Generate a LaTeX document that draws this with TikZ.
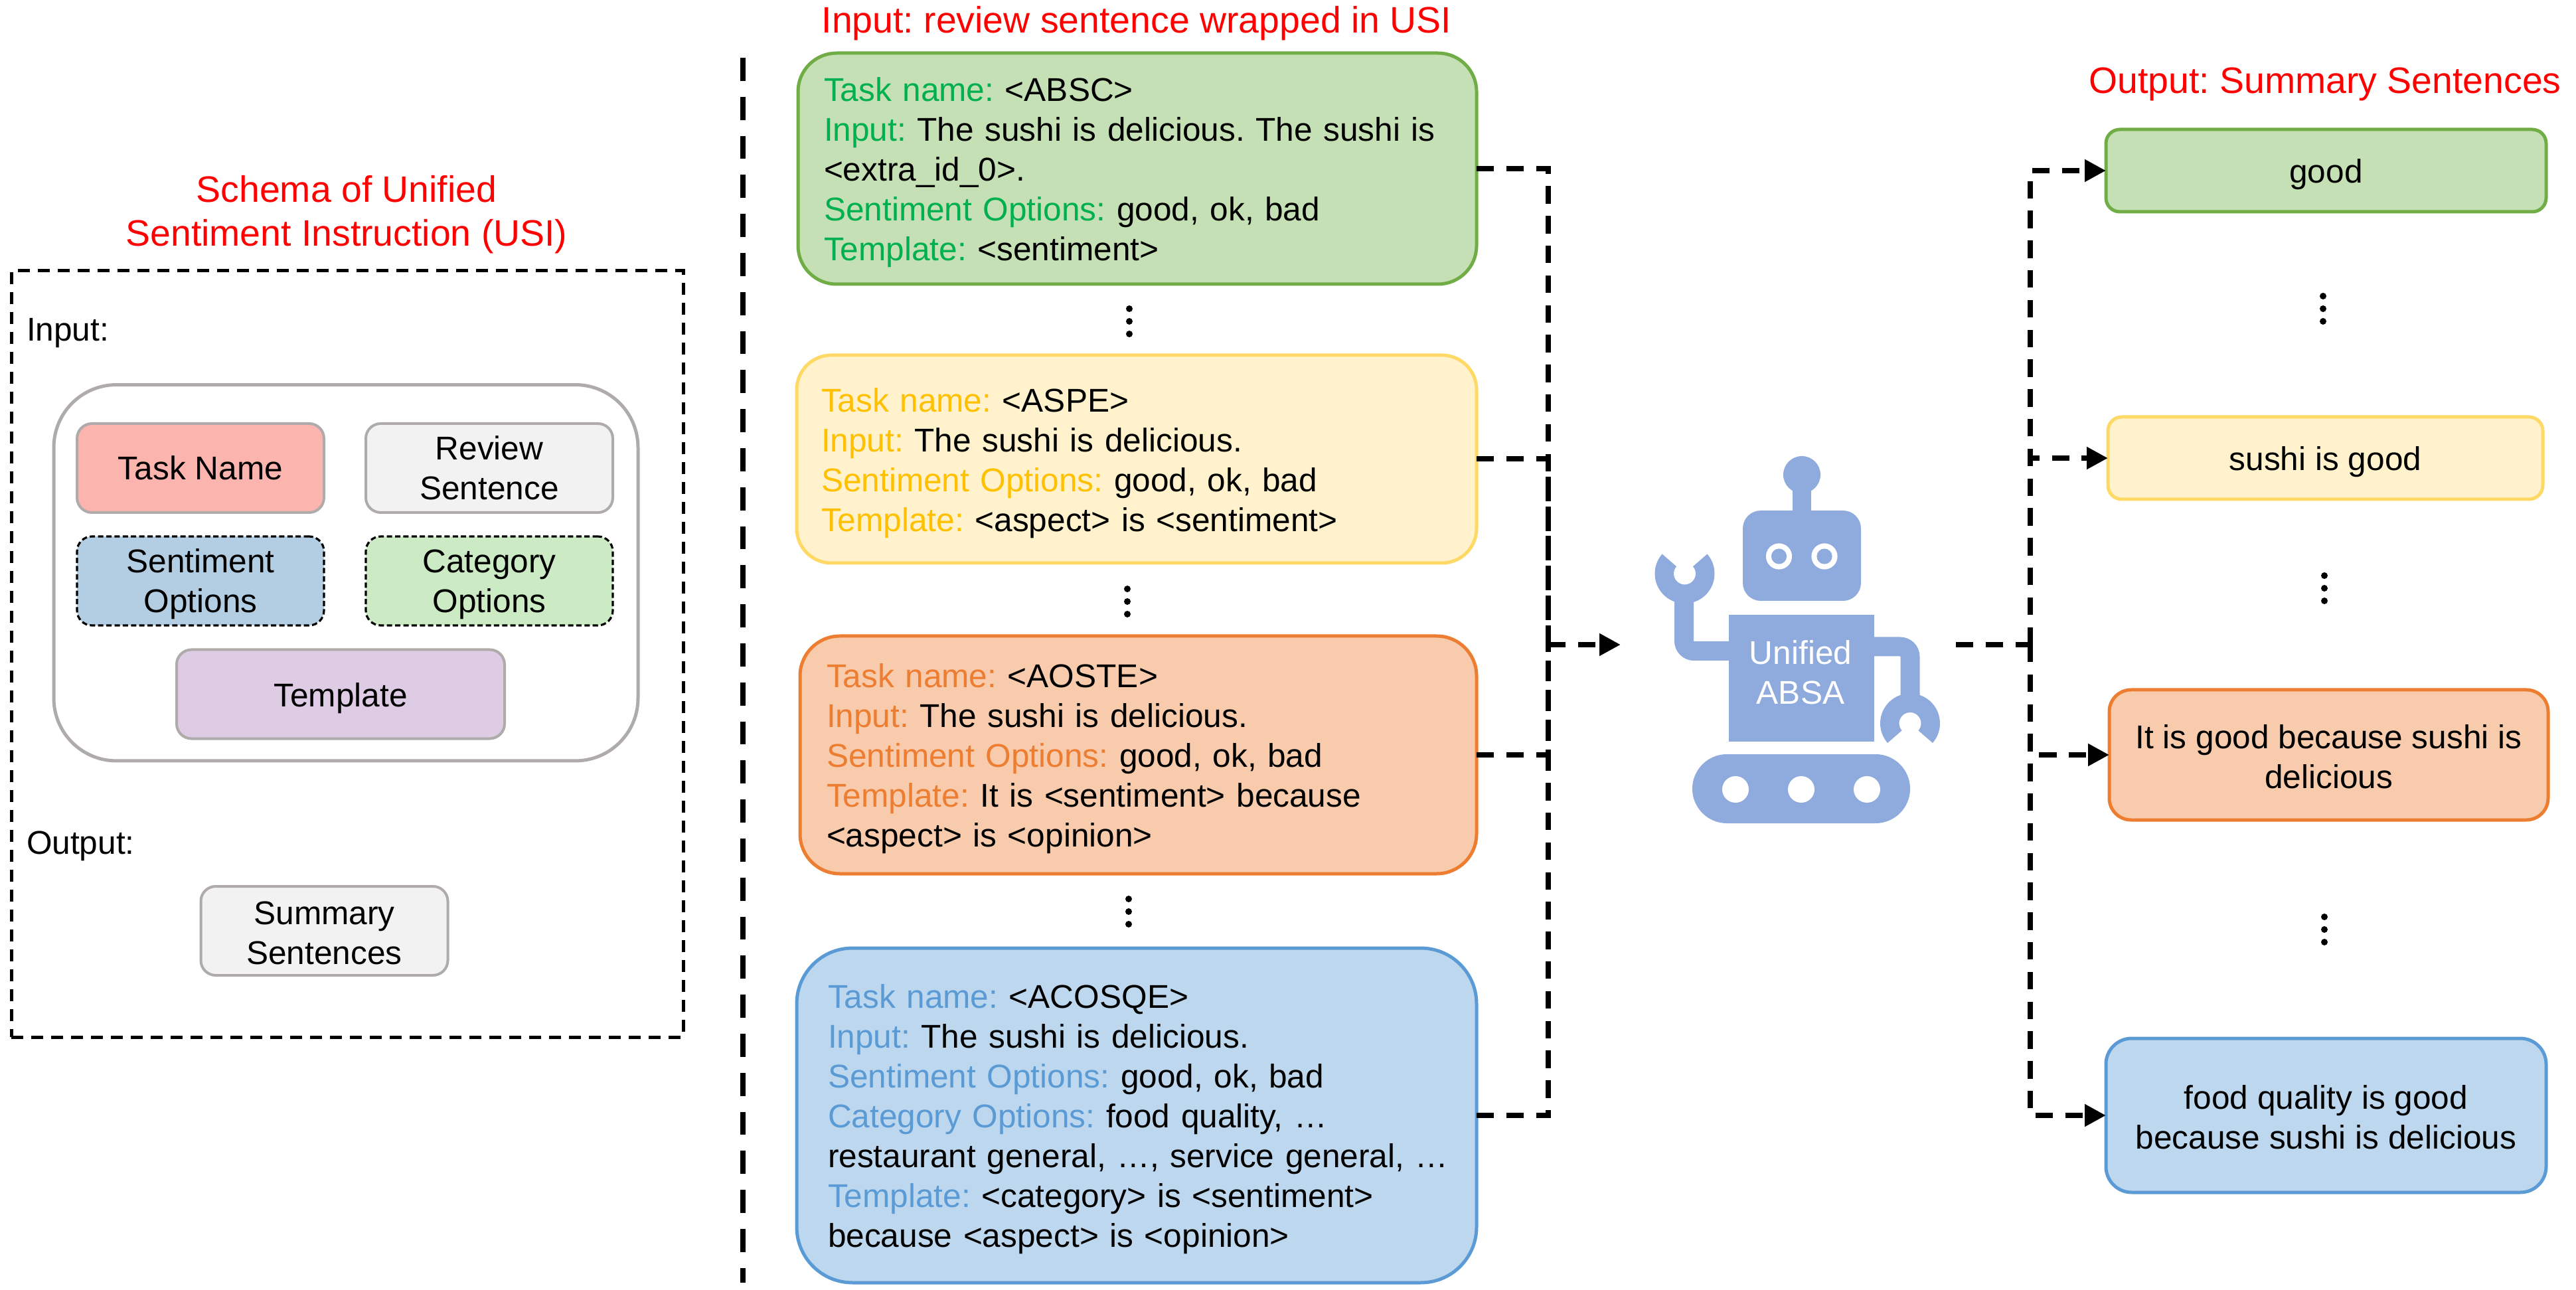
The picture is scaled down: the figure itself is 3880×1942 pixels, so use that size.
\documentclass[tikz,border=0pt]{standalone}
\usepackage{fontspec}
\setmainfont{Liberation Sans}
\usepackage{tikz}
\usetikzlibrary{positioning, calc, arrows.meta}
\definecolor{titleRed}{HTML}{FF0000}
\definecolor{greyLine}{HTML}{AFABAB}
\definecolor{taskFill}{HTML}{FBB4AE}
\definecolor{plainFill}{HTML}{F2F2F2}
\definecolor{sentFill}{HTML}{B3CDE3}
\definecolor{catFill}{HTML}{CCEBC5}
\definecolor{tmplFill}{HTML}{DECBE4}
\definecolor{abscFill}{HTML}{C5E0B4}
\definecolor{abscLine}{HTML}{70AD47}
\definecolor{abscText}{HTML}{00B050}
\definecolor{aspeFill}{HTML}{FFF2CC}
\definecolor{aspeLine}{HTML}{FFD966}
\definecolor{aspeText}{HTML}{FFC000}
\definecolor{aosteFill}{HTML}{F8CBAD}
\definecolor{aosteLine}{HTML}{ED7D31}
\definecolor{acosFill}{HTML}{BDD7EE}
\definecolor{acosLine}{HTML}{5B9BD5}
\definecolor{robotBlue}{HTML}{8FAADC}
\newcommand{\robotWrench}[3]{
  \fill[robotBlue] ($(#1,#2)+(#3:45)$) arc (#3:#3+262:45) --
  ($(#1,#2)+(#3+262:16.5)$) arc (#3+262:#3:16.5) -- cycle;
}
\newcommand{\textDrop}[1]{\rule{0pt}{#1}}
\frenchspacing
\tikzstyle{every node}=[font=\fontsize{12.4}{15}\selectfont, outer sep=0pt]
\tikzstyle{title}=[text=titleRed, align=center, font=\fontsize{13.85}{16.5}\selectfont]
\tikzstyle{part}=[draw=greyLine, line width=1pt, rounded corners=5.6pt, align=center, minimum width=93pt, minimum height=33.5pt, inner sep=0pt]
\tikzstyle{optionPart}=[part, draw=black, line width=0.8pt, dash pattern=on 2pt off 1.1pt]
\tikzstyle{usiBox}=[draw, line width=1.25pt, align=left, inner ysep=0pt, anchor=center]
\tikzstyle{outBox}=[draw, line width=1.25pt, align=center, inner sep=0pt]
\tikzstyle{sideLine}=[line width=2pt, dash pattern=on 6.6pt off 4.6pt]
\tikzstyle{sideArrow}=[sideLine, -{Triangle[length=8pt, width=8pt]}]
\tikzstyle{panelLine}=[line width=2pt, dash pattern=on 8.7pt off 6pt]
\tikzstyle{robotPart}=[fill=robotBlue, inner sep=0pt]
\tikzstyle{robotArm}=[draw=robotBlue, line width=7.25pt, rounded corners=3.75pt]

\begin{document}
\begin{tikzpicture}[x=0.25pt, y=0.25pt]
      \useasboundingbox (0,0) rectangle (3880,1942);

      % schema on the left
      \node[title] (schemaTitle) at (522,1619) {Schema of Unified\\Sentiment Instruction (USI)};
      \node[draw, line width=1.25pt, dash pattern=on 4.5pt off 3pt, minimum width=253pt, minimum height=288.5pt] (schemaBox) at (523,957) {};
      \node[anchor=west, inner sep=0pt] (schemaInput) at (40,1440) {Input:};
      \node[anchor=west, inner sep=0pt] (schemaOutput) at (40,668) {Output:};
      \node[draw=greyLine, line width=1.25pt, rounded corners=23.6pt, minimum width=220pt, minimum height=141.6pt] (partGroup) at (521,1079.25) {};
      \node[part, fill=taskFill] (taskName) at (302,1237) {Task Name};
      \node[part, fill=plainFill] (reviewSentence) at (737,1237) {Review\\Sentence};
      \node[optionPart, fill=sentFill] (sentimentOptions) at (302,1067) {\textDrop{11.5pt}Sentiment\\Options};
      \node[optionPart, fill=catFill] (categoryOptions) at (737,1067) {\textDrop{11.5pt}Category\\Options};
      \node[part, fill=tmplFill, minimum width=123.5pt] (template) at (513,896.5) {\textDrop{12pt}Template};
      \node[part, fill=plainFill] (summarySentences) at (488.5,540) {\textDrop{10.5pt}Summary\\Sentences};

      % separator
      \coordinate (sepTop) at (1119,1855);
      \coordinate (sepBottom) at (1119,10);
      \draw[panelLine] (sepTop) -- (sepBottom);

      % wrapped inputs
      \node[title] (inputTitle) at (1712,1907) {Input: review sentence wrapped in USI};
      \node[usiBox, draw=abscLine, fill=abscFill, rounded corners=14.5pt, minimum height=87pt, inner xsep=9.75pt, text width=236pt] (absc) at (1713,1688) {%
        \textDrop{12pt}\textcolor{abscText}{Task name:} <ABSC>\\
        \textcolor{abscText}{Input:} The sushi is delicious. The sushi is\\
        <extra\_id\_0>.\\
        \textcolor{abscText}{Sentiment Options:} good, ok, bad\\
        \textcolor{abscText}{Template:} <sentiment>};
      \node[usiBox, draw=aspeLine, fill=aspeFill, rounded corners=13pt, minimum height=78.25pt, inner xsep=9.25pt, text width=237.5pt] (aspe) at (1712,1250.5) {%
        \textDrop{12pt}\textcolor{aspeText}{Task name:} <ASPE>\\
        \textcolor{aspeText}{Input:} The sushi is delicious.\\
        \textcolor{aspeText}{Sentiment Options:} good, ok, bad\\
        \textcolor{aspeText}{Template:} <aspect> is <sentiment>};
      \node[usiBox, draw=aosteLine, fill=aosteFill, rounded corners=15pt, minimum height=89.5pt, inner xsep=10pt, text width=234.75pt] (aoste) at (1714.5,805) {%
        \textDrop{12pt}\textcolor{aosteLine}{Task name:} <AOSTE>\\
        \textcolor{aosteLine}{Input:} The sushi is delicious.\\
        \textcolor{aosteLine}{Sentiment Options:} good, ok, bad\\
        \textcolor{aosteLine}{Template:} It is <sentiment> because\\
        <aspect> is <opinion>};
      \node[usiBox, draw=acosLine, fill=acosFill, rounded corners=21pt, minimum height=126pt, inner xsep=11.75pt, text width=232.5pt] (acosqe) at (1712,262) {%
        \textDrop{12pt}\textcolor{acosLine}{Task name:} <ACOSQE>\\
        \textcolor{acosLine}{Input:} The sushi is delicious.\\
        \textcolor{acosLine}{Sentiment Options:} good, ok, bad\\
        \textcolor{acosLine}{Category Options:} food quality, …\\
        \mbox{restaurant general, …, service general, …}\\
        \textcolor{acosLine}{Template:} <category> is <sentiment>\\
        because <aspect> is <opinion>};

      \foreach \x/\y in {1701/1458, 1698/1036, 1700/569, 3499/1477, 3501/1056, 3501/542}{
        \foreach \d in {-19, 0, 19}{
          \fill[black] (\x,\y+\d) circle (5);
        }
      }

      % robot
      \fill[robotBlue] (2714,1227) circle (28);
      \fill[robotBlue] (2700,1227) rectangle (2728,1173);
      \node[robotPart, rounded corners=6.75pt, minimum width=44.5pt, minimum height=34pt] (head) at (2714,1105) {};
      \foreach \x in {2679.5, 2748}{
        \fill[white] (\x,1104) circle (19.6);
        \fill[robotBlue] (\x,1104) circle (11.6);
      }
      \draw[robotArm] (2536.5,1040) -- (2536.5,961.5) -- (2610,961.5);
      \draw[robotArm] (2815,968) -- (2877,968) -- (2877,890);
      \robotWrench{2537.5}{1078}{139}
      \robotWrench{2877}{852.5}{-41}
      \node[robotPart, minimum width=54.75pt, minimum height=47.75pt] (body) at (2713.5,920.5) {};
      \node[text=white, align=center, inner sep=0pt] (bodyLabel) at (2712,929) {Unified\\ABSA};
      \node[robotPart, rounded corners=13pt, minimum width=82pt, minimum height=26pt] (tracks) at (2713,754) {};
      \foreach \x in {2614, 2713, 2812}{
        \fill[white] (\x,753) circle (20);
      }

      % summaries on the right
      \node[title] (outputTitle) at (3502,1815) {Output: Summary Sentences};
      \node[outBox, draw=abscLine, fill=abscFill, rounded corners=5.2pt, minimum width=165.75pt, minimum height=31pt] (good) at (3503.5,1685) {\textDrop{12pt}good};
      \node[outBox, draw=aspeLine, fill=aspeFill, rounded corners=5.2pt, minimum width=163.75pt, minimum height=31pt] (sushiGood) at (3502.5,1252) {\textDrop{12pt}sushi is good};
      \node[outBox, draw=aosteLine, fill=aosteFill, rounded corners=8.2pt, minimum width=165.25pt, minimum height=49pt] (goodBecause) at (3507.5,805) {\textDrop{10.5pt}It is good because sushi is\\delicious};
      \node[outBox, draw=acosLine, fill=acosFill, rounded corners=9.7pt, minimum width=165.75pt, minimum height=58pt] (foodGood) at (3503.5,262) {\textDrop{10.5pt}food quality is good\\because sushi is delicious};

      % connectors
      \coordinate (merge) at (2332,971);
      \coordinate (robotIn) at (2441,971);
      \coordinate (robotOut) at (2946,971);
      \coordinate (split) at (3058,971);
      \foreach \c in {absc, aspe, aoste, acosqe}{
        \draw[sideLine] (\c.east) -| (merge);
      }
      \draw[sideArrow] (merge) -- (robotIn);
      \draw[sideLine] (robotOut) -- (split);
      \foreach \c in {good, sushiGood, goodBecause, foodGood}{
        \draw[sideArrow] (split) |- (\c.west);
      }
    \end{tikzpicture}
\end{document}
